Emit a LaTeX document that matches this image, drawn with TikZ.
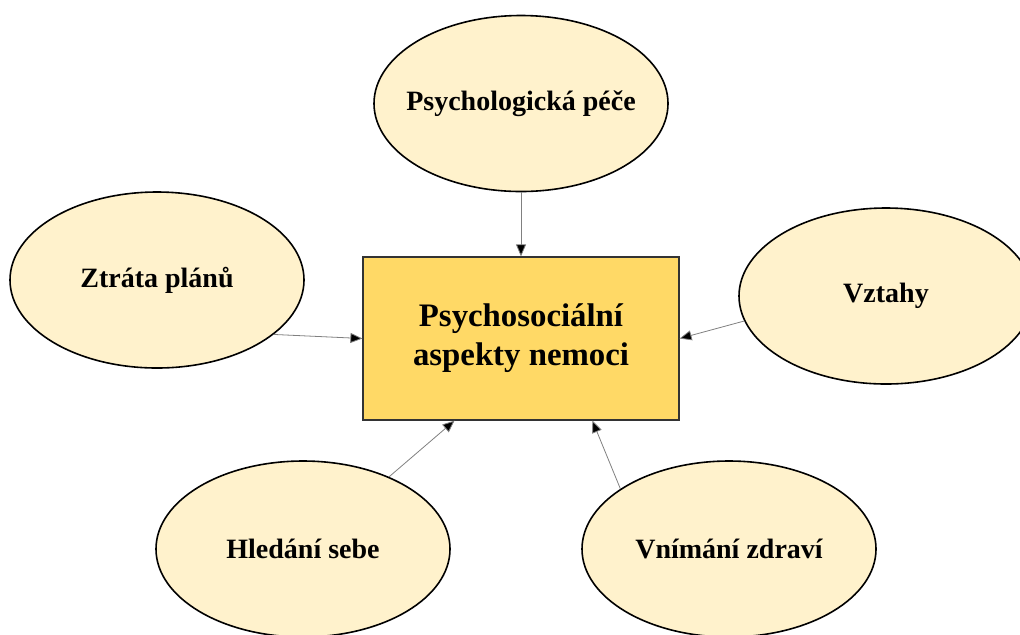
\documentclass[tikz,border=0pt]{standalone}
\usepackage{fontspec}
\setmainfont{Liberation Serif}
\usetikzlibrary{shapes.geometric,arrows.meta}
\definecolor{ovalfill}{HTML}{FFF2CC}
\definecolor{boxfill}{HTML}{FFD966}
\tikzset{
  oval/.style={ellipse, draw=black, line width=0.8pt, fill=ovalfill, inner sep=0pt,
    minimum width=147pt, minimum height=88pt, font=\bfseries\fontsize{14}{16}\selectfont},
  mainbox/.style={rectangle, draw=black!80, line width=0.6pt, fill=boxfill, inner sep=0pt,
    minimum width=158pt, minimum height=81.5pt, align=center,
    font=\bfseries\fontsize{16.4}{19.5}\selectfont},
  link/.style={draw=gray, line width=0.4pt, -{Triangle[length=6pt, width=5pt, fill=black]}}
}

\begin{document}
\begin{tikzpicture}[x=0.5pt, y=-0.5pt]
    \useasboundingbox (0, 0) rectangle (1020, 634);
    \clip (0, 0) rectangle (1020, 634);
    \path (521, 338.5) node[mainbox](box) {Psychosociální\\aspekty nemoci} (521, 103.5) node[oval, inner xsep=-8pt](pp) {Psychologická péče} (157, 280) node[oval](zp) {Ztráta plánů} (886, 296) node[oval](vz) {Vztahy} (303, 549) node[oval](hs) {Hledání sebe} (729, 549) node[oval](vn) {Vnímání zdraví};
    \draw[link] (pp) -- (box);
    \draw[link] (zp.-25) -- (box.west);
    \draw[link] (vz.190) -- (box.east);
    \draw[link] (hs.40) -- (box.231);
    \draw[link] (vn.151) -- (box.-49);
\end{tikzpicture}
\end{document}
